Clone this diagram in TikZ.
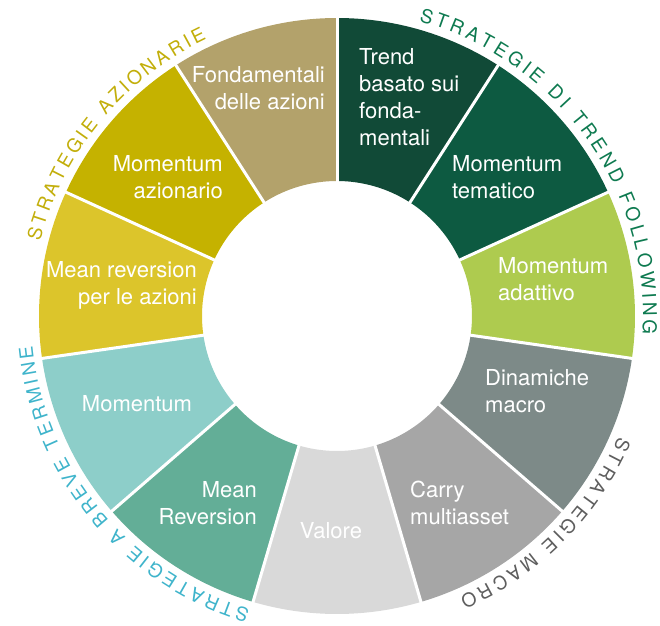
\documentclass[tikz,border=0pt]{standalone}
\usepackage{fontspec}
\setmainfont{TeX Gyre Heros}
\usetikzlibrary{decorations.text}

\definecolor{trendfond}{HTML}{114A37}
\definecolor{momtema}{HTML}{0D5A41}
\definecolor{momadat}{HTML}{AECB4F}
\definecolor{dinmacro}{HTML}{7D8A88}
\definecolor{carrymulti}{HTML}{A6A6A6}
\definecolor{valore}{HTML}{D9D9D9}
\definecolor{meanrev}{HTML}{63AE97}
\definecolor{momentum}{HTML}{8DCEC9}
\definecolor{meanaz}{HTML}{DCC52B}
\definecolor{momaz}{HTML}{C5B200}
\definecolor{fondaz}{HTML}{B3A26B}
\definecolor{txtaz}{HTML}{C2AE0A}
\definecolor{txttrend}{HTML}{0E7A50}
\definecolor{txtmacro}{HTML}{5E5E5E}
\definecolor{txtbreve}{HTML}{3FB4CB}

\newcommand{\ringfont}{\fontsize{19}{19}\selectfont}

\begin{document}
\begin{tikzpicture}[x=1pt,y=1pt,
    seglabel/.style={text=white,inner sep=0pt,font=\fontsize{22}{27}\selectfont},
    ringtext/.style 2 args={decorate,decoration={text along path,
        text align={fit to path},text color=#1,
        text={|\ringfont|#2}}}]
    \pgfmathsetmacro{\rin}{135}
    \pgfmathsetmacro{\rout}{298}
    \pgfmathsetmacro{\rtxt}{306}
    \pgfmathsetmacro{\wedge}{360/11}
    \useasboundingbox (-337,-309) rectangle (323,316);
    % the eleven wedges, clockwise from the top
    \foreach \k/\col in {0/trendfond,1/momtema,2/momadat,3/dinmacro,4/carrymulti,
            5/valore,6/meanrev,7/momentum,8/meanaz,9/momaz,10/fondaz} {
    \pgfmathsetmacro{\a}{90-\k*\wedge}
    \pgfmathsetmacro{\b}{\a-\wedge}
    \fill[\col] (\a:\rin) -- (\a:\rout) arc[start angle=\a,end angle=\b,radius=\rout]
        -- (\b:\rin) arc[start angle=\b,end angle=\a,radius=\rin] -- cycle;
    }
    \pgfmathsetmacro{\rinb}{\rin-2}
    \pgfmathsetmacro{\routb}{\rout+2}
    \foreach \k in {0,...,10} {
    \pgfmathsetmacro{\a}{90-\k*\wedge}
    \draw[white,line width=3pt] (\a:\rinb) -- (\a:\routb);
    }
    % labels in the wedges
    \node[seglabel,anchor=west,align=left] (trend) at (22,219) {Trend\\basato sui\\fonda-\\mentali};
    \node[seglabel,anchor=west,align=left] (tematico) at (115,139) {Momentum\\tematico};
    \node[seglabel,anchor=west,align=left] (adattivo) at (161,37) {Momentum\\adattivo};
    \node[seglabel,anchor=west,align=left] (dinamiche) at (148,-75) {Dinamiche\\macro};
    \node[seglabel,anchor=west,align=left] (carry) at (73,-187) {Carry\\multiasset};
    \node[seglabel] (valore) at (-6,-215) {Valore};
    \node[seglabel] (momentum) at (-200,-88) {Momentum};
    \node[seglabel,anchor=east,align=right] (meanrev) at (-80,-187) {Mean\\Reversion};
    \node[seglabel,anchor=east,align=right] (meanaz) at (-140,31) {Mean reversion\\per le azioni};
    \node[seglabel,anchor=east,align=right] (momaz) at (-114,139) {Momentum\\azionario};
    \node[seglabel,anchor=east,align=right] (fondaz) at (-12,228) {Fondamentali\\delle azioni};
    % group names round the ring
    \path[ringtext={txtaz}{STRATEGIE AZIONARIE}]
        (166:\rtxt) arc[start angle=166,end angle=115.2,radius=\rtxt];
    \path[ringtext={txttrend}{STRATEGIE DI TREND FOLLOWING}]
        (74.5:\rtxt) arc[start angle=74.5,end angle=-3.4,radius=\rtxt];
    \path[ringtext={txtmacro}{STRATEGIE MACRO}]
        (-23.1:\rtxt) arc[start angle=-23.1,end angle=-66.4,radius=\rtxt];
    \path[ringtext={txtbreve}{STRATEGIE A BREVE TERMINE}]
        (253.5:\rtxt) arc[start angle=253.5,end angle=185.6,radius=\rtxt];
\end{tikzpicture}
\end{document}
